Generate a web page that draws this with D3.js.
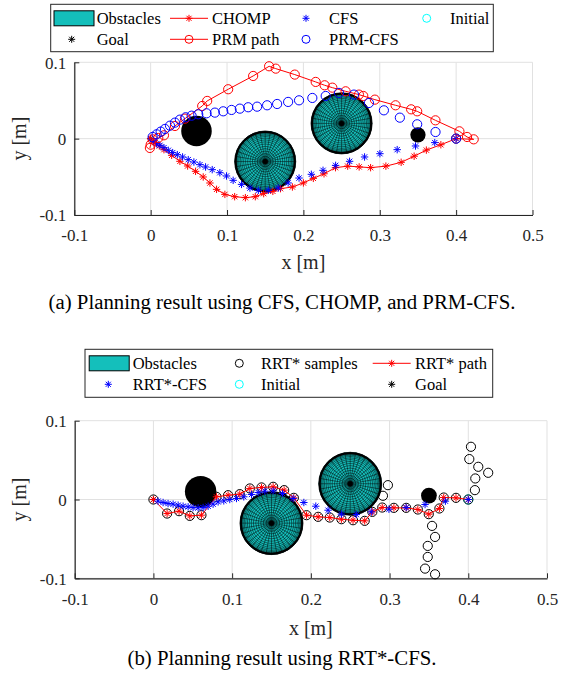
<!DOCTYPE html>
<html>
  <head>
    <meta charset="utf-8" />
    <script src="https://cdn.jsdelivr.net/npm/d3@7"></script>
    <style>
        body { margin: 0; background: #fff; }
        svg text { font-family: "Liberation Serif", "Times New Roman", serif; fill: #000; }
        .tick-label { font-size: 17px; fill: #262626; }
        .axis-label { font-size: 20px; fill: #262626; }
        .legend-text { font-size: 16.5px; }
        .caption { font-size: 20.8px; }
    </style>
  </head>
  <body>
    <script type="text/javascript">

        // ---- data ----
        var xTicks = [-0.1, 0, 0.1, 0.2, 0.3, 0.4, 0.5];
        var yTicks = [-0.1, 0, 0.1];

        // obstacles: [x, y, radius]
        var obstacles = [[0.06, 0.01, 0.02], [0.15, -0.03, 0.04], [0.25, 0.02, 0.04], [0.35, 0.005, 0.01]];
        var initialPt = [0.4, 0];
        var goalPt = [0, 0];

        // (a)
        var chompPath = [[0,0],[0.0057,-0.0052],[0.0113,-0.0096],[0.0174,-0.0144],[0.0275,-0.0218],[0.0383,-0.0297],
            [0.0484,-0.0358],[0.0588,-0.0428],[0.0688,-0.0502],[0.0776,-0.0581],[0.0863,-0.0664],[0.0972,-0.073],
            [0.110,-0.076],[0.124,-0.0773],[0.137,-0.076],[0.148,-0.072],[0.160,-0.069],[0.170,-0.0655],[0.1856,-0.0633],
            [0.200,-0.058],[0.213,-0.052],[0.227,-0.046],[0.242,-0.038],[0.258,-0.036],[0.273,-0.037],[0.288,-0.038],
            [0.308,-0.036],[0.328,-0.031],[0.345,-0.023],[0.361,-0.015],[0.380,-0.008],[0.4,0]];
        var cfsPts = [[0.0035,-0.0035],[0.0078,-0.0066],[0.0122,-0.0087],[0.0174,-0.0118],[0.0231,-0.0153],[0.0288,-0.0183],
            [0.0349,-0.021],[0.0418,-0.024],[0.0492,-0.0275],[0.0566,-0.0306],[0.0645,-0.0341],[0.0719,-0.0371],[0.0806,-0.0406],
            [0.0906,-0.0446],[0.0993,-0.0489],[0.108,-0.0546],[0.119,-0.0599],[0.130,-0.0647],[0.141,-0.0677],[0.154,-0.0677],
            [0.167,-0.0647],[0.180,-0.058],[0.1943,-0.0516],[0.2104,-0.0467],[0.2257,-0.0415],[0.2422,-0.035],[0.2605,-0.0297],
            [0.2801,-0.024],[0.3002,-0.0197],[0.3228,-0.0144],[0.3468,-0.0096],[0.372,-0.0052],[0.4,0]];
        var prmPath = [[-0.001,-0.0122],[0,-0.0079],[0.0026,-0.0009],[0.010,0.0009],[0.0174,0.0044],[0.0318,0.0166],
            [0.0449,0.0262],[0.0675,0.0428],[0.074,0.0494],[0.1015,0.0647],[0.1342,0.0821],[0.1551,0.0948],[0.1638,0.0917],
            [0.1887,0.0839],[0.2161,0.0743],[0.2278,0.0699],[0.2379,0.0668],[0.2553,0.062],[0.2727,0.0577],[0.2784,0.0559],
            [0.2936,0.0511],[0.3207,0.0437],[0.3411,0.0384],[0.349,0.0358],[0.3729,0.024],[0.4043,0.0096],[0.4143,0.0022],
            [0.423,-0.0009],[0.4,0]];
        var prmCfsPts = [[0.0026,0.0022],[0.0078,0.0057],[0.0131,0.0092],[0.0187,0.0127],[0.0253,0.017],[0.0318,0.021],
            [0.0383,0.0249],[0.0458,0.028],[0.0536,0.0301],[0.0623,0.0319],[0.0732,0.0332],[0.0841,0.0341],[0.095,0.0358],
            [0.1059,0.0376],[0.1168,0.0393],[0.1277,0.0411],[0.1394,0.0419],[0.1525,0.0437],[0.1656,0.0454],[0.18,0.0481],
            [0.1943,0.0502],[0.2117,0.0533],[0.2292,0.0559],[0.2466,0.0599],[0.2662,0.0577],[0.2858,0.0467],[0.3054,0.0371],
            [0.3263,0.0275],[0.349,0.0188],[0.373,0.0087],[0.4,0]];

        // (b)
        var rrtPath = [[0,0],[0.0174,-0.0178],[0.0326,-0.0148],[0.0462,-0.0208],[0.061,-0.0199],[0.0801,0.0034],[0.0949,0.0055],
            [0.1097,0.0068],[0.1225,0.014],[0.1373,0.0153],[0.1521,0.0161],[0.1661,0.0119],[0.1784,0.0021],[0.1945,-0.0199],
            [0.2093,-0.022],[0.224,-0.0229],[0.2388,-0.025],[0.2536,-0.0263],[0.2684,-0.0271],[0.2781,-0.0157],[0.2907,-0.0102],
            [0.3055,-0.0106],[0.3211,-0.0106],[0.3359,-0.0127],[0.3498,-0.0186],[0.3633,-0.0114],[0.3688,0.0025],[0.3844,0.0021],[0.4,0]];
        var rrtExtraSamples = [[0.2979,0.0182],[0.2916,0.0047],[0.354,-0.0335],[0.3578,-0.0475],[0.3485,-0.0589],[0.3485,-0.0729],
            [0.3451,-0.0877],[0.3578,-0.0949],[0.4034,0.0669],[0.4013,0.0513],[0.4127,0.0415],[0.4253,0.0339],[0.4089,0.0267],[0.4084,0.0119]];
        var rrtSamples = rrtPath.concat(rrtExtraSamples);
        var rrtCfsPts = [[0.0059,-0.0021],[0.0123,-0.0038],[0.0186,-0.0051],[0.025,-0.0059],[0.0314,-0.0072],[0.0377,-0.0085],
            [0.0441,-0.0093],[0.0504,-0.0102],[0.0568,-0.0106],[0.0631,-0.0102],[0.0695,-0.0085],[0.0758,-0.0059],[0.0822,-0.003],
            [0.0894,-0.0017],[0.097,0],[0.1055,0.0013],[0.1148,0.0034],[0.1246,0.0064],[0.1331,0.0089],[0.1415,0.0106],[0.1521,0.011],
            [0.164,0.0076],[0.1775,0.0013],[0.1911,-0.0038],[0.2063,-0.0085],[0.2219,-0.0136],[0.2388,-0.0186],[0.2578,-0.0191],
            [0.2768,-0.0157],[0.2992,-0.0123],[0.3211,-0.0102],[0.3451,-0.0064],[0.3709,-0.0021],[0.4,0]];

        var teal = "#14bfbb";
        var red = "#ff0000", blue = "#0000ff", cyan = "#00ffff";

        var svg = d3.select("body").append("svg")
            .attr("width", 561)
            .attr("height", 679);

        // MATLAB-ish '*' marker
        function star(s) {
            var d = s * 0.72;
            return "M" + (-s) + ",0L" + s + ",0M0," + (-s) + "L0," + s +
                   "M" + (-d) + "," + (-d) + "L" + d + "," + d +
                   "M" + (-d) + "," + d + "L" + d + "," + (-d);
        }

        // sphere seen from above: meridians + latitude rings
        function drawObstacle(g, cx, cy, r) {
            var o = g.append("g").attr("transform", "translate(" + cx + "," + cy + ")");
            // small spheres: mesh so dense it shows as solid black
            o.append("circle").attr("r", r).attr("fill", r < 20 ? "#000" : teal);
            if (r < 20) return;
            var nMer = 36, nLat = 18, p = "";
            for (var i = 0; i < nMer; i++) {
                var a = i * 2 * Math.PI / nMer;
                p += "M0,0L" + (r * Math.cos(a)) + "," + (r * Math.sin(a));
            }
            o.append("path").attr("d", p).attr("stroke", "#000").attr("stroke-width", 0.5).attr("fill", "none");
            for (var k = 0; k < nLat; k++) {
                o.append("circle")
                    .attr("r", r * Math.cos(k * Math.PI / 2 / nLat))
                    .attr("fill", "none").attr("stroke", "#000").attr("stroke-width", 0.5);
            }
            o.append("circle").attr("r", 2.5).attr("fill", "#000");
            o.append("circle").attr("r", r - 1).attr("fill", "none").attr("stroke", "#000").attr("stroke-width", 2);
        }

        function drawPanel(cfg) {
            var x = d3.scaleLinear().domain([-0.1, 0.5]).range([cfg.left, cfg.right]);
            var y = d3.scaleLinear().domain([-0.1, 0.1]).range([cfg.bottom, cfg.top]);
            var g = svg.append("g");

            // grid
            g.selectAll(".gx").data(xTicks).enter().append("line")
                .attr("x1", d => x(d)).attr("x2", d => x(d))
                .attr("y1", y(-0.1)).attr("y2", y(0.1))
                .attr("stroke", "#e1e1e1").attr("stroke-width", 1);
            g.selectAll(".gy").data(yTicks).enter().append("line")
                .attr("x1", x(-0.1)).attr("x2", x(0.5))
                .attr("y1", d => y(d)).attr("y2", d => y(d))
                .attr("stroke", "#e1e1e1").attr("stroke-width", 1);

            // axes
            var xAxis = d3.axisBottom(x).tickValues(xTicks).tickSizeInner(-5).tickSizeOuter(0).tickFormat(d => String(d));
            var yAxis = d3.axisLeft(y).tickValues(yTicks).tickSizeInner(-5).tickSizeOuter(0).tickFormat(d => String(d));
            var ax = g.append("g").attr("transform", "translate(0," + y(-0.1) + ")").call(xAxis);
            var ay = g.append("g").attr("transform", "translate(" + x(-0.1) + ",0)").call(yAxis);
            [ax, ay].forEach(function(a) {
                a.attr("font-family", null).attr("font-size", null);
                a.select(".domain").attr("stroke", "#262626").attr("stroke-width", 1.2);
                a.selectAll(".tick line").attr("stroke", "#262626");
                a.selectAll(".tick text").attr("class", "tick-label");
            });
            ax.selectAll(".tick text").attr("dy", null).attr("y", cfg.xTickDy);
            ay.selectAll(".tick text").attr("x", -8).attr("dy", "0.35em");

            g.append("text").attr("class", "axis-label").attr("text-anchor", "middle")
                .attr("x", (cfg.left + cfg.right) / 2).attr("y", y(-0.1) + cfg.xLabelDy).text("x [m]");
            g.append("text").attr("class", "axis-label").attr("text-anchor", "middle")
                .attr("transform", "translate(26," + y(0) + ") rotate(-90)").text("y [m]");

            obstacles.forEach(function(o) {
                drawObstacle(g, x(o[0]), y(o[1]), x(o[2]) - x(0));
            });

            // initial and goal
            g.append("circle").attr("cx", x(initialPt[0])).attr("cy", y(initialPt[1])).attr("r", 4.6)
                .attr("fill", "none").attr("stroke", cyan);
            g.append("path").attr("d", star(3.7)).attr("transform", "translate(" + x(goalPt[0]) + "," + y(goalPt[1]) + ")")
                .attr("fill", "none").attr("stroke", "#000").attr("stroke-width", 1);

            var line = d3.line().x(d => x(d[0])).y(d => y(d[1]));

            cfg.series.forEach(function(s) {
                if (s.line) {
                    g.append("path").datum(s.data).attr("d", line)
                        .attr("fill", "none").attr("stroke", s.color).attr("stroke-width", 1);
                }
                var m = g.append("g").selectAll("g").data(s.data).enter();
                if (s.marker === "o") {
                    m.append("circle").attr("cx", d => x(d[0])).attr("cy", d => y(d[1])).attr("r", 4.6)
                        .attr("fill", "none").attr("stroke", s.color).attr("stroke-width", 1);
                } else {
                    m.append("path").attr("d", star(3.7))
                        .attr("transform", d => "translate(" + x(d[0]) + "," + y(d[1]) + ")")
                        .attr("fill", "none").attr("stroke", s.color).attr("stroke-width", 1);
                }
            });

            // legend
            var L = cfg.legend;
            var lg = svg.append("g");
            lg.append("rect").attr("x", L.x).attr("y", L.y).attr("width", L.w).attr("height", L.h)
                .attr("fill", "#fff").attr("stroke", "#262626").attr("stroke-width", 1);
            L.items.forEach(function(it) {
                if (it.type === "patch") {
                    lg.append("rect").attr("x", it.mx - 20).attr("y", it.my - 7.5).attr("width", 40).attr("height", 15)
                        .attr("fill", teal).attr("stroke", "#000").attr("stroke-width", 1);
                } else {
                    if (it.line) {
                        lg.append("line").attr("x1", it.mx - 19).attr("x2", it.mx + 19)
                            .attr("y1", it.my).attr("y2", it.my).attr("stroke", it.color).attr("stroke-width", 1);
                    }
                    if (it.marker === "o") {
                        lg.append("circle").attr("cx", it.mx).attr("cy", it.my).attr("r", 4)
                            .attr("fill", "none").attr("stroke", it.color);
                    } else {
                        lg.append("path").attr("d", star(3.5)).attr("transform", "translate(" + it.mx + "," + it.my + ")")
                            .attr("fill", "none").attr("stroke", it.color);
                    }
                }
                lg.append("text").attr("class", "legend-text").attr("x", it.tx).attr("y", it.my).attr("dy", "0.35em").text(it.label);
            });

            svg.append("text").attr("class", "caption").attr("text-anchor", "middle")
                .attr("x", 282).attr("y", cfg.captionY).attr("dy", "0.35em").text(cfg.caption);
        }

        drawPanel({
            left: 74.3, right: 532.5, top: 62.3, bottom: 215,
            xTickDy: 26, xLabelDy: 54, captionY: 301.5,
            caption: "(a) Planning result using CFS, CHOMP, and PRM-CFS.",
            series: [
                { data: chompPath, color: red, marker: "*", line: true },
                { data: cfsPts, color: blue, marker: "*", line: false },
                { data: prmPath, color: red, marker: "o", line: true },
                { data: prmCfsPts, color: blue, marker: "o", line: false }
            ],
            legend: {
                x: 50.7, y: 4.3, w: 442.6, h: 47.4,
                items: [
                    { type: "patch", mx: 74, my: 18.3, tx: 96.7, label: "Obstacles" },
                    { marker: "*", color: red, line: true, mx: 189, my: 18.3, tx: 212, label: "CHOMP" },
                    { marker: "*", color: blue, mx: 306, my: 18.3, tx: 329, label: "CFS" },
                    { marker: "o", color: cyan, mx: 426.7, my: 18.3, tx: 450, label: "Initial" },
                    { marker: "*", color: "#000", mx: 71.7, my: 39.3, tx: 96.7, label: "Goal" },
                    { marker: "o", color: red, line: true, mx: 189, my: 39.3, tx: 212, label: "PRM path" },
                    { marker: "o", color: blue, mx: 306, my: 39.3, tx: 329, label: "PRM-CFS" }
                ]
            }
        });

        drawPanel({
            left: 74.7, right: 547, top: 420.7, bottom: 578.3,
            xTickDy: 27, xLabelDy: 57, captionY: 658,
            caption: "(b) Planning result using RRT*-CFS.",
            series: [
                { data: rrtSamples, color: "#000", marker: "o", line: false },
                { data: rrtPath, color: red, marker: "*", line: true },
                { data: rrtCfsPts, color: blue, marker: "*", line: false }
            ],
            legend: {
                x: 85, y: 349.3, w: 407.7, h: 48,
                items: [
                    { type: "patch", mx: 109.2, my: 363.3, tx: 132.7, label: "Obstacles" },
                    { marker: "o", color: "#000", mx: 239.3, my: 363.3, tx: 261, label: "RRT* samples" },
                    { marker: "*", color: red, line: true, mx: 391.7, my: 363.3, tx: 415, label: "RRT* path" },
                    { marker: "*", color: blue, mx: 108.3, my: 384.3, tx: 132.7, label: "RRT*-CFS" },
                    { marker: "o", color: cyan, mx: 239.3, my: 384.3, tx: 261, label: "Initial" },
                    { marker: "*", color: "#000", mx: 391.7, my: 384.3, tx: 415, label: "Goal" }
                ]
            }
        });

    </script>
  </body>
</html>
